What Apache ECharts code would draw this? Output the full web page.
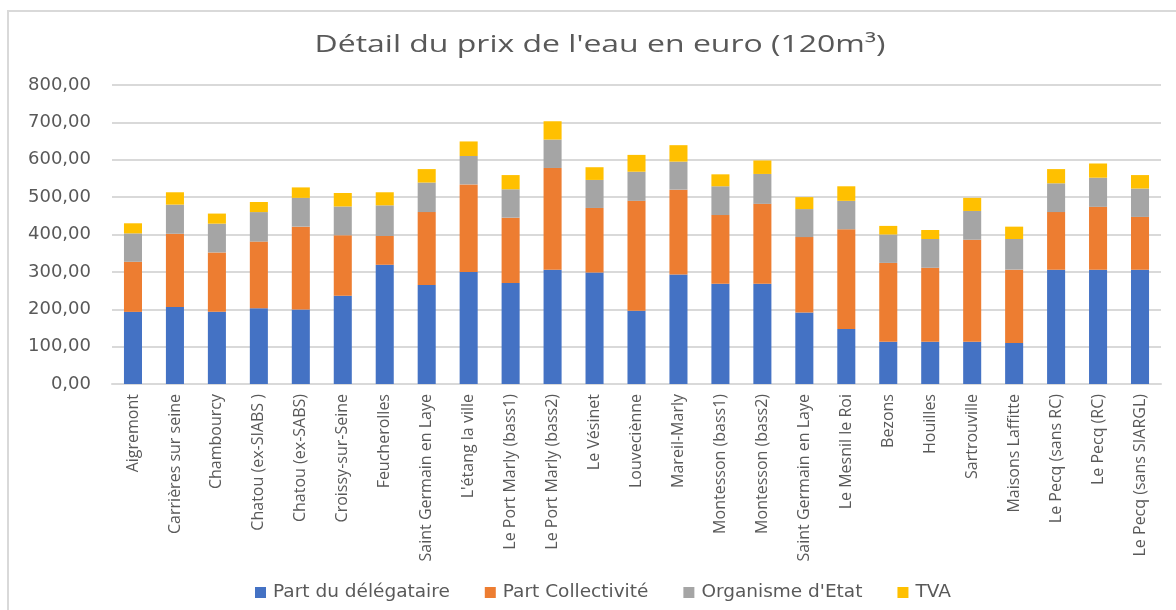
<!DOCTYPE html>
<html>
<head>
<meta charset="utf-8">
<script src="https://cdn.jsdelivr.net/npm/echarts@6/dist/echarts.min.js"></script>
<style>
  html, body { margin: 0; padding: 0; background: #fff; }
  #chart { width: 1176px; height: 610px; }
</style>
</head>
<body>
<div id="chart"></div>
<script>
// Communes / réseaux
const categories = [
  "Aigremont", "Carrières sur seine", "Chambourcy", "Chatou (ex-SIABS )", "Chatou (ex-SABS)",
  "Croissy-sur-Seine", "Feucherolles", "Saint Germain en Laye", "L'étang la ville",
  "Le Port Marly (bass1)", "Le Port Marly (bass2)", "Le Vésinet", "Louveciènne", "Mareil-Marly",
  "Montesson (bass1)", "Montesson (bass2)", "Saint Germain en Laye", "Le Mesnil le Roi",
  "Bezons", "Houilles", "Sartrouville", "Maisons Laffitte", "Le Pecq (sans RC)", "Le Pecq (RC)",
  "Le Pecq (sans SIARGL)"
];

// Composantes du prix (euros pour 120 m3)
const partDelegataire = [193, 206, 193, 203, 199, 236, 319, 265, 300, 270, 306, 298, 196, 293, 268, 268, 191, 147, 113, 113, 113, 110, 306, 306, 306];
const partCollectivite = [134, 196, 159, 178, 222, 162, 77, 195, 234, 175, 272, 173, 294, 227, 184, 214, 202, 267, 211, 198, 273, 196, 154, 168, 141];
const organismeEtat = [76, 78, 77, 79, 77, 77, 82, 79, 76, 76, 76, 75, 78, 75, 77, 80, 75, 76, 76, 77, 77, 82, 77, 78, 76];
const tva = [27, 33, 27, 27, 28, 36, 35, 36, 39, 38, 49, 34, 45, 44, 32, 36, 32, 39, 23, 24, 35, 33, 38, 38, 36];

const yTicks = { min: 0, max: 800, interval: 100 };

const seriesDefs = [
  { name: "Part du délégataire", data: partDelegataire, color: "#4472C4" },
  { name: "Part Collectivité", data: partCollectivite, color: "#ED7D31" },
  { name: "Organisme d'Etat", data: organismeEtat, color: "#A5A5A5" },
  { name: "TVA", data: tva, color: "#FFC000" }
];

const WIDE = "'DejaVu Sans', 'Open Sans', sans-serif";
const NARROW = "'Open Sans', 'Noto Sans', sans-serif";
const TEXT = "#595959";

const chart = echarts.init(document.getElementById("chart"), null, { renderer: "canvas" });
chart.setOption({
  animation: false,
  backgroundColor: "#ffffff",
  graphic: [
    {
      // chart frame
      type: "rect",
      shape: { x: 8, y: 11, width: 1300, height: 700 },
      style: { fill: "none", stroke: "#d9d9d9", lineWidth: 2 },
      silent: true,
      z: -10
    },
    {
      // chart title, set wide
      type: "text",
      x: 600,
      y: 45,
      scaleX: 1.39,
      style: {
        text: "Détail du prix de l'eau en euro (120m³)",
        font: "23px " + NARROW,
        fill: TEXT,
        align: "center",
        verticalAlign: "middle"
      },
      silent: true
    }
  ],
  legend: {
    left: 250,
    top: 578,
    itemWidth: 11,
    itemHeight: 11,
    itemGap: 35,
    icon: "rect",
    textStyle: { fontFamily: WIDE, fontSize: 18.5, color: TEXT, padding: [0, 0, 0, 2] },
    data: seriesDefs.map(s => s.name)
  },
  grid: { left: 112, right: 15, top: 85, bottom: 226, containLabel: false },
  xAxis: {
    type: "category",
    data: categories,
    axisLine: { lineStyle: { color: "#d9d9d9", width: 2 } },
    axisTick: { show: false },
    axisLabel: {
      rotate: 90,
      interval: 0,
      margin: 10,
      fontFamily: NARROW,
      fontSize: 16,
      color: TEXT
    }
  },
  yAxis: {
    type: "value",
    min: yTicks.min,
    max: yTicks.max,
    interval: yTicks.interval,
    axisLine: { show: false },
    axisTick: { show: false },
    splitLine: { lineStyle: { color: "#d9d9d9", width: 2 } },
    axisLabel: {
      margin: 21,
      fontFamily: WIDE,
      fontSize: 18,
      color: TEXT,
      formatter: v => v.toFixed(2).replace(".", ",")
    }
  },
  series: seriesDefs.map(s => ({
    name: s.name,
    type: "bar",
    stack: "total",
    data: s.data,
    barWidth: "43%",
    itemStyle: { color: s.color },
    emphasis: { disabled: true }
  }))
});
</script>
</body>
</html>
